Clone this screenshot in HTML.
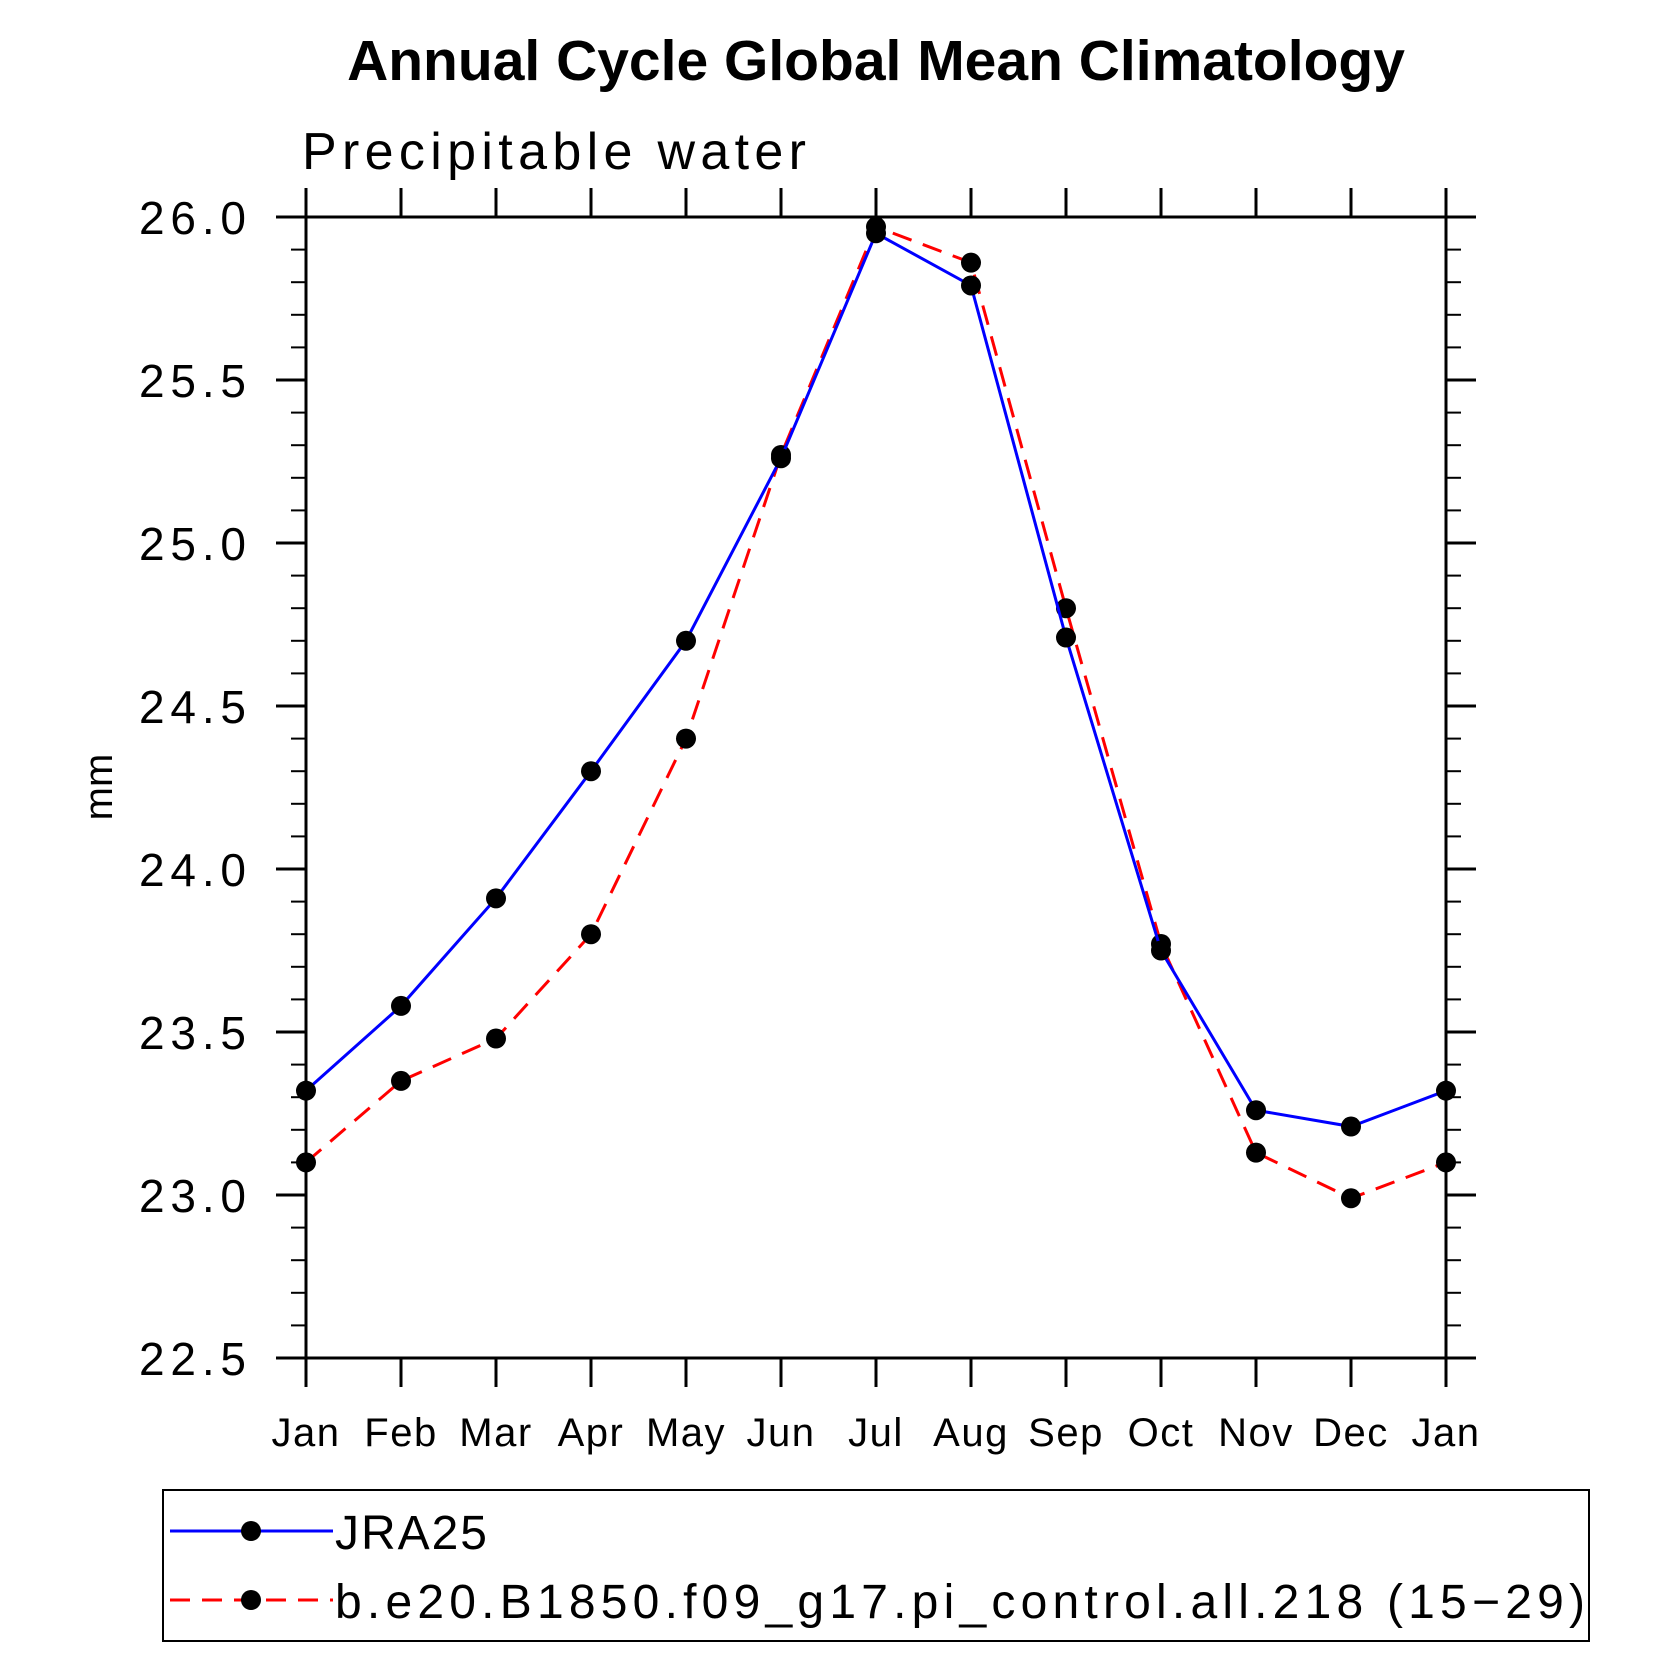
<!DOCTYPE html>
<html><head><meta charset="utf-8"><style>
html,body{margin:0;padding:0;background:#fff}
svg{display:block}
text{font-family:"Liberation Sans",sans-serif}
</style></head><body>
<svg id="chart" width="1680" height="1680" viewBox="0 0 1680 1680" xmlns="http://www.w3.org/2000/svg">
<text x="876" y="80" text-anchor="middle" font-size="57" font-weight="bold">Annual Cycle Global Mean Climatology</text>
<text x="302" y="169" font-size="52" font-weight="300" textLength="504" lengthAdjust="spacing">Precipitable water</text>
<text transform="translate(112,787) rotate(-90)" text-anchor="middle" font-size="40">mm</text>
<g id="axes"></g>
<g id="series"></g>
<g>
<rect x="163" y="1490" width="1426" height="151" fill="none" stroke="#000" stroke-width="2"/>
<g>
<line x1="170" y1="1531" x2="333" y2="1531" stroke="#00f" stroke-width="3"/>
<circle cx="251" cy="1531" r="10" fill="#000"/>
<text x="335" y="1549" font-size="48" textLength="152" lengthAdjust="spacing">JRA25</text>
</g>
<g>
<line x1="170" y1="1600" x2="333" y2="1600" stroke="#f00" stroke-width="3" stroke-dasharray="20,12"/>
<circle cx="251" cy="1600" r="10" fill="#000"/>
<text x="335" y="1618" font-size="48" textLength="1250" lengthAdjust="spacing">b.e20.B1850.f09_g17.pi_control.all.218 (15−29)</text>
</g>
</g>
</svg>
<script>
const months=["Jan","Feb","Mar","Apr","May","Jun","Jul","Aug","Sep","Oct","Nov","Dec","Jan"];
const jraValues=[23.32,23.58,23.91,24.30,24.70,25.26,25.95,25.79,24.71,23.75,23.26,23.21,23.32];
const modelValues=[23.10,23.35,23.48,23.80,24.40,25.27,25.97,25.86,24.80,23.77,23.13,22.99,23.10];
const yTicks=["22.5","23.0","23.5","24.0","24.5","25.0","25.5","26.0"];

const NS="http://www.w3.org/2000/svg";
const L=306,R=1446,T=217,B=1358,YMIN=22.5,YMAX=26.0;
const xs=i=>L+(R-L)*i/(months.length-1);
const ys=v=>B-(B-T)*(v-YMIN)/(YMAX-YMIN);
function mk(tag,attrs,parent){const e=document.createElementNS(NS,tag);for(const k in attrs)e.setAttribute(k,attrs[k]);parent.appendChild(e);return e;}
const ax=document.getElementById('axes');
const frame=mk('rect',{x:L,y:T,width:R-L,height:B-T,fill:'none',stroke:'#000','stroke-width':3},ax);


months.forEach((m,i)=>{
  const x=xs(i);
  mk('line',{x1:x,y1:B,x2:x,y2:B+29,stroke:'#000','stroke-width':3},ax);
  mk('line',{x1:x,y1:T,x2:x,y2:T-29,stroke:'#000','stroke-width':3},ax);
  const t=mk('text',{x:x,y:1446,'text-anchor':'middle','font-size':40,'letter-spacing':1.5},ax);
  t.textContent=m;
  
  
});
for(let k=0;k<=35;k++){
  const v=YMIN+k*0.1,y=ys(v),major=k%5===0;
  const len=major?30:15;
  mk('line',{x1:L,y1:y,x2:L-len,y2:y,stroke:'#000','stroke-width':major?3:2},ax);
  mk('line',{x1:R,y1:y,x2:R+len,y2:y,stroke:'#000','stroke-width':major?3:2},ax);
}
yTicks.forEach(s=>{
  const t=mk('text',{x:139,y:ys(parseFloat(s))+17,'font-size':46,textLength:107,lengthAdjust:'spacing'},ax);
  t.textContent=s;
  
  
});
const sg=document.getElementById('series');
function drawSeries(vals,color,dash,name){
  const g=mk('g',{},sg);
  
  
  const pts=vals.map((v,i)=>xs(i)+','+ys(v)).join(' ');
  const pl=mk('polyline',{points:pts,fill:'none',stroke:color,'stroke-width':3},g);
  if(dash)pl.setAttribute('stroke-dasharray',dash);
  
  
  vals.forEach((v,i)=>{
    const c=mk('circle',{cx:xs(i),cy:ys(v),r:10,fill:'#000'},g);
    
    
  });
}
drawSeries(modelValues,'#f00','20,12','model-series');
drawSeries(jraValues,'#00f',null,'jra25-series');
</script>
</body></html>
